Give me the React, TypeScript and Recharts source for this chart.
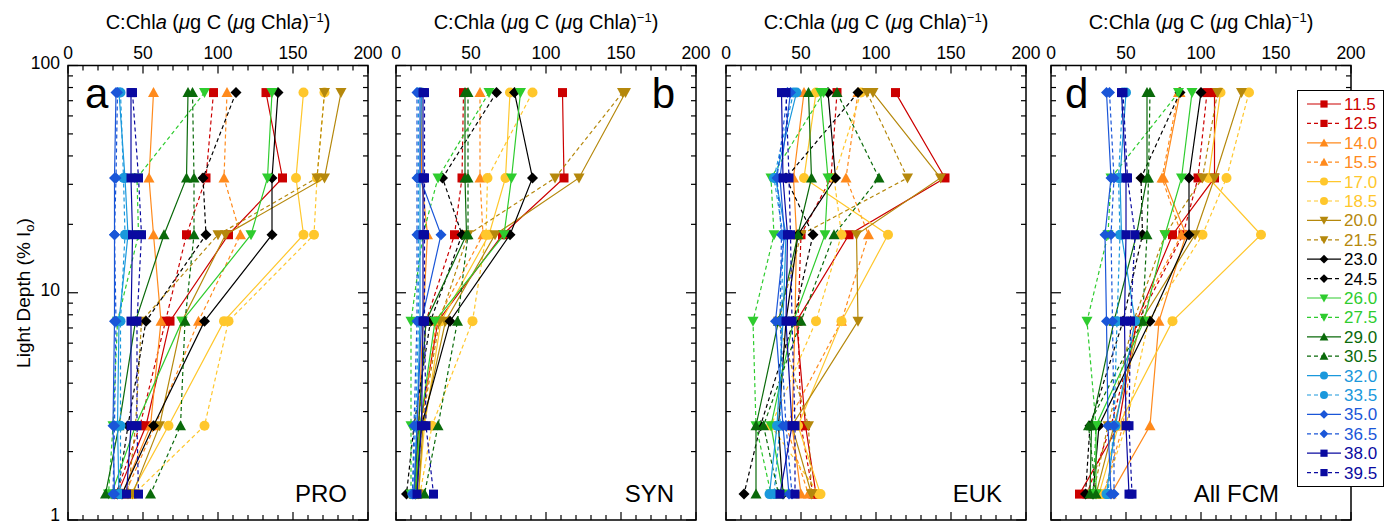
import React from 'react';
import { ScatterChart, Scatter, XAxis, YAxis, ReferenceArea } from 'recharts';

// light depth (% Io) of the six sampling levels
const depths = [76, 32, 18, 7.5, 2.6, 1.3];

const seriesNames = ['11.5', '12.5', '14.0', '15.5', '17.0', '18.5', '20.0', '21.5', '23.0', '24.5',
  '26.0', '27.5', '29.0', '30.5', '32.0', '33.5', '35.0', '36.5', '38.0', '39.5'];
const seriesColors = ['#cc0000', '#cc0000', '#ff8a1c', '#ff8a1c', '#ffc72c', '#ffc72c', '#b5880c', '#b5880c',
  '#000000', '#000000', '#2ecc2e', '#2ecc2e', '#0a6a0a', '#0a6a0a', '#1a98dc', '#1a98dc', '#1a56d8', '#1a56d8',
  '#0a0aa0', '#0a0aa0'];
const seriesDashed = [false, true, false, true, false, true, false, true, false, true,
  false, true, false, true, false, true, false, true, false, true];
const seriesShapes = ['square', 'square', 'up', 'up', 'circle', 'circle', 'down', 'down', 'diamond', 'diamond',
  'down', 'down', 'up', 'up', 'circle', 'circle', 'diamond', 'diamond', 'square', 'square'];

// C:Chla per series, top to bottom depth
const proValues = [
  [132, 143, 107, 68, 52, 33],
  [97, 92, 79, 65, 48, 32],
  [57, 54, 57, 62, 55, 36],
  [106, 104, 115, 87, 58, 38],
  [157, 152, 157, 104, 67, 42],
  [171, 166, 164, 107, 91, 44],
  [182, 171, 105, 76, 61, 43],
  [171, 166, 100, 49, 45, 40],
  [140, 136, 136, 91, 57, 36],
  [112, 90, 92, 52, 40, 33],
  [136, 133, 122, 76, 45, 29],
  [91, 46, 47, 33, 30, 27],
  [80, 79, 64, 45, 34, 25],
  [83, 84, 84, 78, 75, 55],
  [34, 38, 40, 34, 33, 34],
  [35, 37, 38, 35, 35, 35],
  [32, 31, 31, 31, 30, 31],
  [33, 32, 31, 32, 31, 30],
  [42, 42, 43, 42, 42, 39],
  [43, 47, 49, 46, 46, 47],
];

const synValues = [
  [111, 112, 71, 28, 16, 14],
  [45, 44, 39, 20, 15, 12],
  [17, 17, 21, 18, 15, 13],
  [56, 56, 58, 27, 17, 13],
  [76, 73, 62, 30, 19, 15],
  [91, 61, 60, 51, 24, 16],
  [153, 122, 66, 33, 18, 15],
  [151, 106, 48, 29, 17, 14],
  [79, 91, 76, 36, 17, 13],
  [67, 31, 44, 23, 12, 7],
  [83, 77, 72, 26, 16, 13],
  [62, 28, 18, 10, 10, 10],
  [46, 46, 47, 20, 15, 12],
  [48, 48, 48, 41, 28, 19],
  [17, 16, 16, 16, 14, 12],
  [15, 15, 15, 15, 13, 11],
  [16, 16, 30, 17, 14, 12],
  [14, 14, 14, 14, 12, 11],
  [18, 18, 18, 18, 17, 14],
  [19, 19, 19, 19, 20, 25],
];

const eukValues = [
  [113, 146, 82, 47, 53, 60],
  [74, 70, 50, 48, 50, 58],
  [52, 45, 47, 46, 44, 50],
  [88, 80, 95, 77, 40, 55],
  [60, 52, 108, 77, 48, 63],
  [90, 72, 77, 60, 30, 62],
  [98, 143, 87, 88, 44, 57],
  [94, 121, 50, 35, 55, 57],
  [68, 73, 48, 40, 35, 38],
  [88, 40, 58, 45, 23, 12],
  [63, 68, 66, 45, 30, 38],
  [65, 30, 32, 18, 20, 30],
  [55, 57, 48, 35, 20, 20],
  [74, 102, 72, 50, 25, 35],
  [47, 33, 40, 38, 34, 29],
  [45, 32, 38, 37, 36, 32],
  [43, 36, 39, 33, 38, 42],
  [41, 34, 37, 36, 40, 44],
  [37, 38, 41, 40, 44, 36],
  [40, 42, 43, 44, 46, 46],
];

const fcmValues = [
  [109, 109, 81, 57, 45, 19],
  [104, 98, 88, 58, 40, 24],
  [86, 75, 90, 72, 66, 40],
  [85, 74, 87, 56, 48, 35],
  [113, 105, 140, 81, 45, 32],
  [132, 117, 101, 65, 50, 35],
  [127, 109, 96, 60, 42, 30],
  [111, 101, 76, 55, 38, 28],
  [100, 92, 92, 66, 32, 28],
  [86, 60, 61, 48, 26, 23],
  [94, 87, 76, 62, 30, 30],
  [85, 40, 38, 24, 30, 28],
  [64, 64, 57, 42, 27, 26],
  [66, 65, 64, 61, 25, 30],
  [50, 46, 47, 56, 43, 37],
  [48, 45, 46, 44, 42, 38],
  [37, 40, 36, 37, 38, 40],
  [39, 42, 40, 41, 42, 42],
  [47, 50, 50, 49, 50, 52],
  [48, 51, 56, 53, 52, 54],
];

const xTicks = [0, 10, 20, 30, 40, 50, 60, 70, 80, 90, 100, 110, 120, 130, 140, 150, 160, 170, 180, 190, 200];
const xMajor = [0, 50, 100, 150, 200];
const yTicks = [1, 2, 3, 4, 5, 6, 7, 8, 9, 10, 20, 30, 40, 50, 60, 70, 80, 90, 100];
const yMajor = [1, 10, 100];

const FONT = '"Liberation Sans", Arial, Helvetica, sans-serif';
const PLOT_W = 300;
const PLOT_H = 454.5;
const AXIS_W = 60;
const RIGHT_PAD = 24;

function Marker({ cx, cy, kind, color, s = 1 }: any) {
  if (cx == null || cy == null) return null;
  if (kind === 'square') {
    const h = 4.5 * s;
    return <rect x={cx - h} y={cy - h} width={2 * h} height={2 * h} fill={color} />;
  }
  if (kind === 'circle') return <circle cx={cx} cy={cy} r={5 * s} fill={color} />;
  if (kind === 'diamond') {
    const h = 5.5 * s;
    return <polygon points={`${cx},${cy - h} ${cx + h},${cy} ${cx},${cy + h} ${cx - h},${cy}`} fill={color} />;
  }
  const w = 5.5 * s;
  if (kind === 'up') {
    return <polygon points={`${cx},${cy - 5.5 * s} ${cx + w},${cy + 4.5 * s} ${cx - w},${cy + 4.5 * s}`} fill={color} />;
  }
  return <polygon points={`${cx},${cy + 5.5 * s} ${cx + w},${cy - 4.5 * s} ${cx - w},${cy - 4.5 * s}`} fill={color} />;
}

const XTick = (props: any) => {
  const { x, y, payload } = props;
  const v = payload.value;
  const major = xMajor.includes(v);
  const len = major ? 8 : 5;
  return (
    <g>
      <line x1={x} y1={y} x2={x} y2={y + len} stroke="#000" strokeWidth={1.2} />
      <line x1={x} y1={y + PLOT_H} x2={x} y2={y + PLOT_H - len} stroke="#000" strokeWidth={1.2} />
      {major && (
        <text x={x} y={y - 7} textAnchor="middle" fontSize={17.5} fontFamily={FONT} fill="#000">
          {v}
        </text>
      )}
    </g>
  );
};

const makeYTick = (showLabel: boolean) => (props: any) => {
  const { x, y, payload } = props;
  const v = payload.value;
  const major = yMajor.includes(v);
  const len = major ? 10 : 5;
  // keep the bottom label inside the page
  const ly = v === 1 ? y - 5 : y - 3;
  return (
    <g>
      <line x1={x} y1={y} x2={x + len} y2={y} stroke="#000" strokeWidth={1.2} />
      <line x1={x + PLOT_W} y1={y} x2={x + PLOT_W - len} y2={y} stroke="#000" strokeWidth={1.2} />
      {showLabel && major && (
        <text x={x - 8} y={ly} dy="0.35em" textAnchor="end" fontSize={17.5} fontFamily={FONT} fill="#000">
          {v}
        </text>
      )}
    </g>
  );
};

function Panel({ values, left, showLabels }: { values: number[][]; left: number; showLabels: boolean }) {
  return (
    <div style={{ position: 'absolute', left: left - AXIS_W, top: 0 }}>
      <ScatterChart
        width={AXIS_W + PLOT_W + RIGHT_PAD}
        height={524}
        margin={{ top: 0, right: RIGHT_PAD, bottom: 4, left: 0 }}
      >
        <XAxis
          type="number"
          dataKey="x"
          orientation="top"
          domain={[0, 200]}
          ticks={xTicks}
          interval={0}
          height={65.5}
          tickSize={0}
          tickMargin={0}
          axisLine={false}
          tickLine={false}
          tick={XTick}
          allowDataOverflow
        />
        <YAxis
          type="number"
          dataKey="y"
          scale="log"
          domain={[1, 100]}
          ticks={yTicks}
          interval={0}
          width={AXIS_W}
          tickSize={0}
          tickMargin={0}
          axisLine={false}
          tickLine={false}
          tick={makeYTick(showLabels)}
          allowDataOverflow
        />
        {values.map((row, i) => (
          <Scatter
            key={seriesNames[i]}
            name={seriesNames[i]}
            data={depths.map((d, j) => ({ x: row[j], y: d }))}
            fill={seriesColors[i]}
            line={{
              stroke: seriesColors[i],
              strokeWidth: 1.2,
              strokeDasharray: seriesDashed[i] ? '4 3' : undefined,
            }}
            shape={(p: any) => <Marker cx={p.cx} cy={p.cy} kind={seriesShapes[i]} color={seriesColors[i]} />}
            isAnimationActive={false}
          />
        ))}
        <ReferenceArea x1={0} x2={200} y1={1} y2={100} fill="none" fillOpacity={0} stroke="#000" strokeWidth={1.5} />
      </ScatterChart>
    </div>
  );
}

const panelLefts = [68, 396, 726, 1051];

function Title({ cx }: { cx: number }) {
  return (
    <text x={cx} y={29} textAnchor="middle" fontSize={20} fontFamily={FONT} fill="#000">
      C:Chl<tspan fontStyle="italic">a</tspan> (<tspan fontStyle="italic">μ</tspan>g C (
      <tspan fontStyle="italic">μ</tspan>g Chl<tspan fontStyle="italic">a</tspan>)
      <tspan dy={-7} fontSize={13}>−1</tspan>
      <tspan dy={7}>)</tspan>
    </text>
  );
}

function Legend() {
  return (
    <div
      style={{
        position: 'absolute',
        left: 1297,
        top: 90,
        width: 85,
        height: 395,
        border: '1px solid #000',
        background: '#fff',
      }}
    >
      <svg width={85} height={395}>
        {seriesNames.map((n, i) => {
          const y = 13 + i * 19.4;
          return (
            <g key={n}>
              <line
                x1={9}
                x2={43}
                y1={y}
                y2={y}
                stroke={seriesColors[i]}
                strokeWidth={1.2}
                strokeDasharray={seriesDashed[i] ? '4 3' : undefined}
              />
              <Marker cx={26} cy={y} kind={seriesShapes[i]} color={seriesColors[i]} s={0.8} />
              <text x={46} y={y} dy="0.35em" fontSize={17} fontFamily={FONT} fill={seriesColors[i]}>
                {n}
              </text>
            </g>
          );
        })}
      </svg>
    </div>
  );
}

export default function App() {
  const panels = [proValues, synValues, eukValues, fcmValues];
  return (
    <div style={{ position: 'absolute', left: 0, top: 0, width: 1385, height: 524, background: '#fff', overflow: 'hidden' }}>
      {panels.map((vals, k) => (
        <Panel key={k} values={vals} left={panelLefts[k]} showLabels={k === 0} />
      ))}
      <svg width={1385} height={524} style={{ position: 'absolute', left: 0, top: 0, pointerEvents: 'none' }}>
        {panelLefts.map((l) => (
          <Title key={l} cx={l + PLOT_W / 2} />
        ))}
        <text
          x={23}
          y={293}
          transform="rotate(-90, 23, 293)"
          textAnchor="middle"
          dy="0.35em"
          fontSize={19}
          fontFamily={FONT}
          fill="#000"
        >
          Light Depth (% I<tspan dy={4} fontSize={13}>o</tspan>
          <tspan dy={-4}>)</tspan>
        </text>
        <text x={85} y={108} fontSize={42} fontFamily={FONT} fill="#000">a</text>
        <text x={675} y={108} textAnchor="end" fontSize={42} fontFamily={FONT} fill="#000">b</text>
        <text x={1065} y={108} fontSize={42} fontFamily={FONT} fill="#000">d</text>
        <text x={347} y={502} textAnchor="end" fontSize={24} fontFamily={FONT} fill="#000">PRO</text>
        <text x={674} y={502} textAnchor="end" fontSize={24} fontFamily={FONT} fill="#000">SYN</text>
        <text x={1002} y={502} textAnchor="end" fontSize={24} fontFamily={FONT} fill="#000">EUK</text>
        <text x={1279} y={502} textAnchor="end" fontSize={24} fontFamily={FONT} fill="#000">All FCM</text>
      </svg>
      <Legend />
    </div>
  );
}
